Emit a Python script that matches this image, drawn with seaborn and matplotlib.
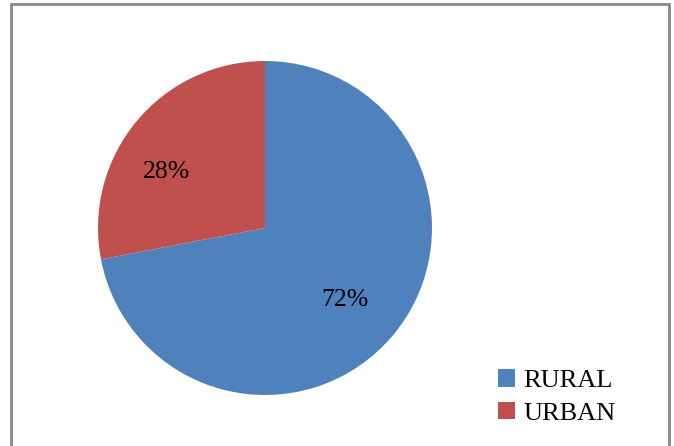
import matplotlib
matplotlib.use("Agg")
import matplotlib.pyplot as plt
from matplotlib.patches import Rectangle, Patch
import seaborn as sns

categories = ["RURAL", "URBAN"]
values = [72, 28]
colors_hex = ["#4F81BD", "#C0504D"]

sns.set_theme(style="white")
plt.rcParams["font.family"] = ["Liberation Serif", "DejaVu Serif"]
plt.rcParams["text.color"] = "black"
palette = sns.color_palette(colors_hex)

W, H = 674, 446
fig = plt.figure(figsize=(W / 100, H / 100), dpi=100)
fig.patch.set_facecolor("white")

# outer border
fig.patches.append(Rectangle((11 / W, -0.05), (669 - 11) / W, 1.05 - 4 / H,
                             transform=fig.transFigure, fill=False,
                             edgecolor="#888888", linewidth=2, zorder=0))

cx, cy, r = 265, 228, 167
ax = fig.add_axes([(cx - r) / W, (H - cy - r) / H, 2 * r / W, 2 * r / H])
wedges, texts, autotexts = ax.pie(values, colors=palette, startangle=90,
                                  counterclock=False, autopct="%d%%",
                                  pctdistance=0.66,
                                  wedgeprops=dict(linewidth=0),
                                  textprops=dict(fontsize=18.5, color="black"))
ax.set_xlim(-1, 1)
ax.set_ylim(-1, 1)
ax.set_aspect("equal")
ax.axis("off")

# label positions (as in the reference)
autotexts[0].set_position(((345 - cx) / r, (cy - 300) / r))
autotexts[1].set_position(((166 - cx) / r, (cy - 172) / r))
for t in autotexts:
    t.set_ha("center")
    t.set_va("center")

handles = [Patch(facecolor=palette[i], edgecolor="none") for i in range(len(categories))]
leg = fig.legend(handles, categories, loc="center left",
                 bbox_to_anchor=(498 / W, 1 - 397 / H), frameon=False,
                 fontsize=19, handlelength=0.65, handleheight=0.65,
                 handletextpad=0.3, labelspacing=0.35, borderpad=0, borderaxespad=0)
for t in leg.get_texts():
    t.set_color("black")

fig.savefig("out.png", dpi=100)
